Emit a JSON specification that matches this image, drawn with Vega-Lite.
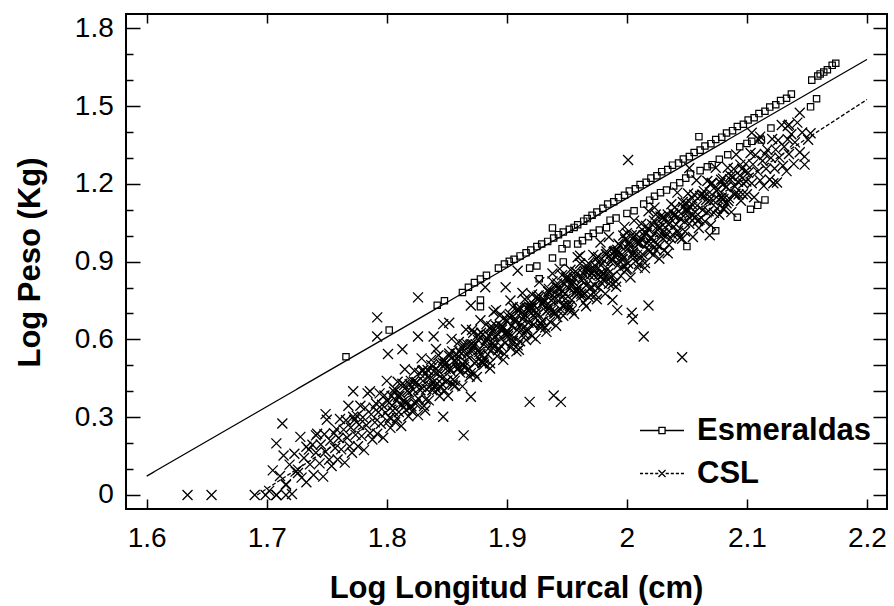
{
"$schema":"https://vega.github.io/schema/vega-lite/v6.json",
"width":761,"height":495,
"autosize":{"type":"none"},
"padding":{"left":126,"top":14,"right":7,"bottom":97},
"background":"white",
"config":{
 "view":{"stroke":"black","strokeWidth":2},
 "font":"Liberation Sans",
 "axis":{"domain":false,"grid":false,"tickColor":"black","tickWidth":1.5,"labelColor":"black","labelFont":"Liberation Sans","labelFontSize":28,"titleFont":"Liberation Sans","titleFontSize":31,"titleFontWeight":"bold","titleColor":"black","labelOverlap":false,"labelFlush":false}
},
"datasets":{
"lines":[{"s":"Esmeraldas","x":1.6,"y":0.073},{"s":"Esmeraldas","x":2.2,"y":1.68},{"s":"CSL","x":1.692,"y":0},{"s":"CSL","x":2.2,"y":1.525}],
"esm":[
{"x":1.766,"y":0.533},{"x":1.802,"y":0.636},{"x":1.842,"y":0.732},{"x":1.848,"y":0.749},{"x":1.863,"y":0.781},{"x":1.868,"y":0.801},{"x":1.873,"y":0.819},{"x":1.878,"y":0.833},{"x":1.883,"y":0.847},
{"x":1.893,"y":0.875},{"x":1.898,"y":0.891},{"x":1.902,"y":0.901},{"x":1.906,"y":0.909},{"x":1.911,"y":0.922},{"x":1.916,"y":0.934},{"x":1.920,"y":0.945},{"x":1.925,"y":0.958},{"x":1.929,"y":0.968},{"x":1.934,"y":0.978},{"x":1.939,"y":0.991},{"x":1.943,"y":1.004},{"x":1.947,"y":1.014},{"x":1.952,"y":1.025},{"x":1.956,"y":1.032},{"x":1.959,"y":1.042},{"x":1.964,"y":1.056},{"x":1.967,"y":1.066},{"x":1.971,"y":1.079},{"x":1.975,"y":1.091},
{"x":1.980,"y":1.106},{"x":1.984,"y":1.122},{"x":1.989,"y":1.131},{"x":1.993,"y":1.147},{"x":1.998,"y":1.156},{"x":2.002,"y":1.172},{"x":2.007,"y":1.181},{"x":2.011,"y":1.197},{"x":2.016,"y":1.206},{"x":2.020,"y":1.222},{"x":2.025,"y":1.231},{"x":2.029,"y":1.247},{"x":2.034,"y":1.255},{"x":2.038,"y":1.272},{"x":2.043,"y":1.280},{"x":2.047,"y":1.296},{"x":2.052,"y":1.305},{"x":2.056,"y":1.321},{"x":2.061,"y":1.330},{"x":2.065,"y":1.346},{"x":2.070,"y":1.355},{"x":2.074,"y":1.371},{"x":2.079,"y":1.380},{"x":2.083,"y":1.396},{"x":2.088,"y":1.405},{"x":2.092,"y":1.421},{"x":2.097,"y":1.430},{"x":2.101,"y":1.446},{"x":2.106,"y":1.455},{"x":2.110,"y":1.471},{"x":2.115,"y":1.480},{"x":2.119,"y":1.496},{"x":2.124,"y":1.505},{"x":2.128,"y":1.521},{"x":2.133,"y":1.530},{"x":2.137,"y":1.546},
{"x":2.154,"y":1.600},{"x":2.159,"y":1.616},{"x":2.161,"y":1.624},{"x":2.164,"y":1.631},{"x":2.167,"y":1.640},{"x":2.171,"y":1.657},{"x":2.174,"y":1.665},
{"x":1.938,"y":1.030},{"x":2.060,"y":1.382},
{"x":1.878,"y":0.752},{"x":1.878,"y":0.726},{"x":1.919,"y":0.875},{"x":1.925,"y":0.883},{"x":1.927,"y":0.834},{"x":1.938,"y":0.914},{"x":1.947,"y":0.899},{"x":1.946,"y":0.950},{"x":1.950,"y":0.968},{"x":1.959,"y":0.968},{"x":1.963,"y":0.981},{"x":1.968,"y":0.996},{"x":1.972,"y":1.009},{"x":1.977,"y":1.022},{"x":1.983,"y":1.031},{"x":1.986,"y":1.060},{"x":1.991,"y":1.068},{"x":2.000,"y":1.086},{"x":2.006,"y":1.096},{"x":2.014,"y":1.122},{"x":2.019,"y":1.137},{"x":2.023,"y":1.152},{"x":2.028,"y":1.166},{"x":2.033,"y":1.176},{"x":2.039,"y":1.192},{"x":2.044,"y":1.204},{"x":2.049,"y":1.222},{"x":2.053,"y":1.238},{"x":2.061,"y":1.251},{"x":2.067,"y":1.266},{"x":2.071,"y":1.274},{"x":2.077,"y":1.295},{"x":2.084,"y":1.312},{"x":2.094,"y":1.343},{"x":2.100,"y":1.356},{"x":2.104,"y":1.364},{"x":2.112,"y":1.369},{"x":2.120,"y":1.415},{"x":2.153,"y":1.497},{"x":2.158,"y":1.528},
{"x":2.050,"y":0.958},{"x":2.074,"y":1.019},{"x":2.092,"y":1.071},{"x":2.103,"y":1.102},{"x":2.109,"y":1.117},{"x":2.115,"y":1.138}
],
"csl":[
{"x":1.634,"y":0},{"x":1.654,"y":0},{"x":1.690,"y":0},{"x":1.699,"y":0},{"x":1.708,"y":0},{"x":1.716,"y":0},{"x":1.716,"y":0.042},{"x":1.724,"y":0.090},{"x":1.726,"y":0.085},{"x":1.708,"y":0.199},{"x":1.713,"y":0.276},{"x":1.733,"y":0.186},{"x":1.741,"y":0.230},{"x":1.749,"y":0.312},{"x":1.772,"y":0.302},{"x":1.772,"y":0.400},{"x":1.786,"y":0.400},
{"x":1.702,"y":0.016},{"x":1.705,"y":0.095},{"x":1.708,"y":0},
{"x":1.711,"y":0.073},{"x":1.714,"y":0.152},{"x":1.716,"y":0.038},{"x":1.719,"y":0.117},
{"x":1.721,"y":0.004},{"x":1.723,"y":0.159},{"x":1.726,"y":0.098},{"x":1.728,"y":0.224},{"x":1.729,"y":0.067},
{"x":1.731,"y":0.143},{"x":1.733,"y":0.049},{"x":1.735,"y":0.175},{"x":1.736,"y":0.118},{"x":1.738,"y":0.194},{"x":1.739,"y":0.077},
{"x":1.741,"y":0.163},{"x":1.742,"y":0.236},{"x":1.744,"y":0.122},{"x":1.745,"y":0.195},{"x":1.747,"y":0.071},{"x":1.748,"y":0.234},{"x":1.749,"y":0.167},
{"x":1.750,"y":0.290},{"x":1.752,"y":0.136},{"x":1.753,"y":0.209},{"x":1.754,"y":0.112},{"x":1.756,"y":0.238},{"x":1.757,"y":0.181},{"x":1.758,"y":0.254},{"x":1.759,"y":0.137},
{"x":1.760,"y":0.220},{"x":1.761,"y":0.293},{"x":1.762,"y":0.176},{"x":1.764,"y":0.252},{"x":1.765,"y":0.125},{"x":1.766,"y":0.288},{"x":1.767,"y":0.221},{"x":1.768,"y":0.344},{"x":1.769,"y":0.187},
{"x":1.770,"y":0.260},{"x":1.771,"y":0.163},{"x":1.773,"y":0.289},{"x":1.774,"y":0.232},{"x":1.775,"y":0.305},{"x":1.776,"y":0.188},{"x":1.777,"y":0.271},{"x":1.778,"y":0.344},{"x":1.779,"y":0.227},
{"x":1.780,"y":0.300},{"x":1.781,"y":0.173},{"x":1.782,"y":0.336},{"x":1.783,"y":0.269},{"x":1.784,"y":0.392},{"x":1.786,"y":0.238},{"x":1.787,"y":0.311},{"x":1.788,"y":0.214},{"x":1.789,"y":0.337},
{"x":1.790,"y":0.280},{"x":1.791,"y":0.353},{"x":1.792,"y":0.236},{"x":1.793,"y":0.319},{"x":1.794,"y":0.392},{"x":1.795,"y":0.275},{"x":1.796,"y":0.348},{"x":1.797,"y":0.221},{"x":1.798,"y":0.384},{"x":1.799,"y":0.317},
{"x":1.800,"y":0.440},{"x":1.801,"y":0.283},{"x":1.802,"y":0.356},{"x":1.803,"y":0.259},{"x":1.804,"y":0.382},{"x":1.805,"y":0.325},{"x":1.806,"y":0.398},{"x":1.807,"y":0.281},{"x":1.808,"y":0.364},{"x":1.809,"y":0.437},
{"x":1.810,"y":0.320},{"x":1.811,"y":0.393},{"x":1.812,"y":0.266},{"x":1.813,"y":0.429},{"x":1.814,"y":0.362},{"x":1.815,"y":0.485},{"x":1.816,"y":0.328},{"x":1.817,"y":0.401},{"x":1.818,"y":0.304},{"x":1.819,"y":0.427},{"x":1.816,"y":0.358},
{"x":1.820,"y":0.440},{"x":1.821,"y":0.323},{"x":1.822,"y":0.406},{"x":1.823,"y":0.479},{"x":1.824,"y":0.362},{"x":1.825,"y":0.435},{"x":1.826,"y":0.308},{"x":1.827,"y":0.471},{"x":1.828,"y":0.404},{"x":1.829,"y":0.527},{"x":1.824,"y":0.352},
{"x":1.830,"y":0.440},{"x":1.831,"y":0.343},{"x":1.832,"y":0.466},{"x":1.833,"y":0.409},{"x":1.834,"y":0.482},{"x":1.835,"y":0.365},{"x":1.836,"y":0.448},{"x":1.837,"y":0.521},{"x":1.838,"y":0.404},{"x":1.839,"y":0.477},{"x":1.832,"y":0.326},{"x":1.837,"y":0.501},
{"x":1.840,"y":0.440},{"x":1.841,"y":0.563},{"x":1.842,"y":0.406},{"x":1.843,"y":0.479},{"x":1.844,"y":0.382},{"x":1.845,"y":0.505},{"x":1.846,"y":0.448},{"x":1.847,"y":0.521},{"x":1.848,"y":0.404},{"x":1.849,"y":0.487},{"x":1.843,"y":0.539},{"x":1.846,"y":0.428},
{"x":1.850,"y":0.510},{"x":1.851,"y":0.383},{"x":1.852,"y":0.546},{"x":1.853,"y":0.479},{"x":1.854,"y":0.602},{"x":1.855,"y":0.445},{"x":1.856,"y":0.518},{"x":1.857,"y":0.421},{"x":1.858,"y":0.544},{"x":1.859,"y":0.487},{"x":1.852,"y":0.536},{"x":1.855,"y":0.425},{"x":1.858,"y":0.514},
{"x":1.860,"y":0.590},{"x":1.861,"y":0.473},{"x":1.862,"y":0.546},{"x":1.863,"y":0.419},{"x":1.864,"y":0.582},{"x":1.865,"y":0.515},{"x":1.866,"y":0.638},{"x":1.867,"y":0.481},{"x":1.868,"y":0.554},{"x":1.869,"y":0.457},{"x":1.861,"y":0.553},{"x":1.864,"y":0.502},{"x":1.867,"y":0.581},
{"x":1.870,"y":0.470},{"x":1.871,"y":0.553},{"x":1.872,"y":0.626},{"x":1.873,"y":0.509},{"x":1.874,"y":0.582},{"x":1.875,"y":0.455},{"x":1.876,"y":0.618},{"x":1.877,"y":0.551},{"x":1.878,"y":0.674},{"x":1.879,"y":0.517},{"x":1.871,"y":0.563},{"x":1.873,"y":0.469},{"x":1.876,"y":0.598},{"x":1.878,"y":0.544},
{"x":1.880,"y":0.620},{"x":1.881,"y":0.503},{"x":1.882,"y":0.586},{"x":1.883,"y":0.659},{"x":1.884,"y":0.542},{"x":1.885,"y":0.615},{"x":1.886,"y":0.488},{"x":1.887,"y":0.651},{"x":1.888,"y":0.584},{"x":1.889,"y":0.707},{"x":1.881,"y":0.523},{"x":1.884,"y":0.602},{"x":1.886,"y":0.508},{"x":1.888,"y":0.634},
{"x":1.890,"y":0.580},{"x":1.891,"y":0.653},{"x":1.892,"y":0.536},{"x":1.893,"y":0.619},{"x":1.894,"y":0.692},{"x":1.895,"y":0.575},{"x":1.896,"y":0.648},{"x":1.897,"y":0.521},{"x":1.898,"y":0.684},{"x":1.899,"y":0.617},{"x":1.891,"y":0.713},{"x":1.893,"y":0.559},{"x":1.896,"y":0.638},{"x":1.898,"y":0.544},
{"x":1.900,"y":0.670},{"x":1.901,"y":0.613},{"x":1.902,"y":0.686},{"x":1.903,"y":0.569},{"x":1.904,"y":0.652},{"x":1.905,"y":0.725},{"x":1.906,"y":0.608},{"x":1.907,"y":0.681},{"x":1.908,"y":0.554},{"x":1.909,"y":0.717},{"x":1.901,"y":0.623},{"x":1.903,"y":0.750},{"x":1.905,"y":0.595},{"x":1.907,"y":0.671},{"x":1.909,"y":0.577},
{"x":1.910,"y":0.560},{"x":1.911,"y":0.723},{"x":1.912,"y":0.656},{"x":1.913,"y":0.779},{"x":1.914,"y":0.622},{"x":1.915,"y":0.695},{"x":1.916,"y":0.598},{"x":1.917,"y":0.721},{"x":1.918,"y":0.664},{"x":1.919,"y":0.737},{"x":1.911,"y":0.593},{"x":1.913,"y":0.679},{"x":1.915,"y":0.755},{"x":1.917,"y":0.641},{"x":1.918,"y":0.714},
{"x":1.920,"y":0.700},{"x":1.921,"y":0.773},{"x":1.922,"y":0.656},{"x":1.923,"y":0.729},{"x":1.924,"y":0.602},{"x":1.925,"y":0.765},{"x":1.926,"y":0.698},{"x":1.927,"y":0.821},{"x":1.928,"y":0.664},{"x":1.929,"y":0.737},{"x":1.921,"y":0.613},{"x":1.922,"y":0.736},{"x":1.924,"y":0.682},{"x":1.926,"y":0.758},{"x":1.928,"y":0.644},
{"x":1.930,"y":0.670},{"x":1.931,"y":0.743},{"x":1.932,"y":0.646},{"x":1.933,"y":0.769},{"x":1.934,"y":0.712},{"x":1.935,"y":0.785},{"x":1.936,"y":0.668},{"x":1.937,"y":0.751},{"x":1.938,"y":0.824},{"x":1.939,"y":0.707},{"x":1.931,"y":0.753},{"x":1.933,"y":0.629},{"x":1.935,"y":0.795},{"x":1.936,"y":0.728},{"x":1.938,"y":0.854},
{"x":1.940,"y":0.780},{"x":1.941,"y":0.653},{"x":1.942,"y":0.816},{"x":1.943,"y":0.749},{"x":1.944,"y":0.872},{"x":1.945,"y":0.715},{"x":1.946,"y":0.788},{"x":1.947,"y":0.691},{"x":1.948,"y":0.814},{"x":1.949,"y":0.757},{"x":1.941,"y":0.803},{"x":1.942,"y":0.686},{"x":1.944,"y":0.772},{"x":1.946,"y":0.848},{"x":1.948,"y":0.734},
{"x":1.950,"y":0.830},{"x":1.951,"y":0.713},{"x":1.952,"y":0.796},{"x":1.953,"y":0.869},{"x":1.954,"y":0.752},{"x":1.955,"y":0.825},{"x":1.956,"y":0.698},{"x":1.957,"y":0.861},{"x":1.958,"y":0.794},{"x":1.959,"y":0.917},{"x":1.951,"y":0.733},{"x":1.953,"y":0.809},{"x":1.954,"y":0.712},{"x":1.956,"y":0.838},{"x":1.958,"y":0.784},
{"x":1.960,"y":0.800},{"x":1.961,"y":0.923},{"x":1.962,"y":0.766},{"x":1.963,"y":0.839},{"x":1.964,"y":0.742},{"x":1.965,"y":0.865},{"x":1.966,"y":0.808},{"x":1.967,"y":0.881},{"x":1.968,"y":0.764},{"x":1.969,"y":0.847},{"x":1.961,"y":0.893},{"x":1.962,"y":0.776},{"x":1.964,"y":0.852},{"x":1.966,"y":0.728},{"x":1.968,"y":0.894},
{"x":1.970,"y":0.770},{"x":1.971,"y":0.853},{"x":1.972,"y":0.926},{"x":1.973,"y":0.809},{"x":1.974,"y":0.882},{"x":1.975,"y":0.755},{"x":1.976,"y":0.918},{"x":1.977,"y":0.851},{"x":1.978,"y":0.974},{"x":1.979,"y":0.817},{"x":1.972,"y":0.866},{"x":1.974,"y":0.772},{"x":1.976,"y":0.898},{"x":1.978,"y":0.844},
{"x":1.980,"y":0.830},{"x":1.981,"y":0.903},{"x":1.982,"y":0.776},{"x":1.983,"y":0.939},{"x":1.984,"y":0.872},{"x":1.985,"y":0.995},{"x":1.986,"y":0.838},{"x":1.987,"y":0.911},{"x":1.988,"y":0.814},{"x":1.989,"y":0.937},{"x":1.981,"y":0.853},{"x":1.983,"y":0.929},{"x":1.985,"y":0.815},{"x":1.988,"y":0.904},
{"x":1.990,"y":0.920},{"x":1.991,"y":0.823},{"x":1.992,"y":0.946},{"x":1.993,"y":0.889},{"x":1.994,"y":0.962},{"x":1.995,"y":0.845},{"x":1.996,"y":0.928},{"x":1.997,"y":1.001},{"x":1.998,"y":0.884},{"x":1.999,"y":0.957},{"x":1.991,"y":0.803},{"x":1.993,"y":0.969},{"x":1.996,"y":0.908},{"x":1.998,"y":1.034},
{"x":2.000,"y":1.010},{"x":2.001,"y":0.893},{"x":2.002,"y":0.966},{"x":2.003,"y":0.839},{"x":2.004,"y":1.002},{"x":2.005,"y":0.935},{"x":2.006,"y":1.058},{"x":2.007,"y":0.901},{"x":2.008,"y":0.974},{"x":2.009,"y":0.877},{"x":2.002,"y":0.976},{"x":2.005,"y":0.925},{"x":2.008,"y":1.004},
{"x":2.010,"y":0.890},{"x":2.011,"y":0.973},{"x":2.012,"y":1.046},{"x":2.013,"y":0.929},{"x":2.014,"y":1.002},{"x":2.015,"y":0.875},{"x":2.016,"y":1.038},{"x":2.017,"y":0.971},{"x":2.018,"y":1.094},{"x":2.019,"y":0.937},{"x":2.012,"y":0.986},{"x":2.015,"y":0.895},{"x":2.018,"y":1.024},
{"x":2.020,"y":0.970},{"x":2.021,"y":1.043},{"x":2.022,"y":0.926},{"x":2.023,"y":1.009},{"x":2.024,"y":1.082},{"x":2.025,"y":0.965},{"x":2.026,"y":1.038},{"x":2.027,"y":0.911},{"x":2.028,"y":1.074},{"x":2.029,"y":1.007},{"x":2.023,"y":1.109},{"x":2.027,"y":0.961},
{"x":2.030,"y":1.040},{"x":2.031,"y":0.943},{"x":2.032,"y":1.066},{"x":2.033,"y":1.009},{"x":2.034,"y":1.082},{"x":2.035,"y":0.965},{"x":2.036,"y":1.048},{"x":2.037,"y":1.121},{"x":2.038,"y":1.004},{"x":2.039,"y":1.077},{"x":2.034,"y":0.932},
{"x":2.040,"y":1.110},{"x":2.041,"y":1.043},{"x":2.042,"y":1.166},{"x":2.043,"y":1.009},{"x":2.045,"y":1.085},{"x":2.046,"y":0.988},{"x":2.047,"y":1.111},{"x":2.048,"y":1.054},{"x":2.049,"y":1.127},{"x":2.044,"y":0.992},
{"x":2.050,"y":1.090},{"x":2.051,"y":1.163},{"x":2.052,"y":1.046},{"x":2.054,"y":1.122},{"x":2.055,"y":0.995},{"x":2.056,"y":1.158},{"x":2.057,"y":1.091},{"x":2.058,"y":1.214},{"x":2.059,"y":1.057},{"x":2.053,"y":1.109},
{"x":2.060,"y":1.030},{"x":2.061,"y":1.153},{"x":2.063,"y":1.099},{"x":2.064,"y":1.172},{"x":2.065,"y":1.055},{"x":2.066,"y":1.138},{"x":2.067,"y":1.211},{"x":2.068,"y":1.094},{"x":2.069,"y":1.167},
{"x":2.070,"y":1.040},{"x":2.071,"y":1.203},{"x":2.072,"y":1.136},{"x":2.074,"y":1.262},{"x":2.075,"y":1.105},{"x":2.076,"y":1.178},{"x":2.077,"y":1.081},{"x":2.078,"y":1.204},{"x":2.079,"y":1.147},
{"x":2.080,"y":1.220},{"x":2.081,"y":1.103},{"x":2.083,"y":1.189},{"x":2.084,"y":1.262},{"x":2.085,"y":1.145},{"x":2.086,"y":1.218},{"x":2.087,"y":1.091},{"x":2.089,"y":1.257},
{"x":2.090,"y":1.190},{"x":2.091,"y":1.313},{"x":2.093,"y":1.159},{"x":2.094,"y":1.232},{"x":2.095,"y":1.135},{"x":2.096,"y":1.258},{"x":2.097,"y":1.201},{"x":2.099,"y":1.277},
{"x":2.100,"y":1.160},{"x":2.101,"y":1.243},{"x":2.103,"y":1.319},{"x":2.104,"y":1.202},{"x":2.105,"y":1.275},{"x":2.106,"y":1.148},{"x":2.107,"y":1.311},{"x":2.109,"y":1.247},
{"x":2.110,"y":1.370},{"x":2.111,"y":1.213},{"x":2.113,"y":1.289},{"x":2.114,"y":1.192},{"x":2.115,"y":1.315},{"x":2.116,"y":1.258},{"x":2.117,"y":1.331},{"x":2.119,"y":1.217},
{"x":2.120,"y":1.300},{"x":2.121,"y":1.373},{"x":2.123,"y":1.259},{"x":2.124,"y":1.332},{"x":2.125,"y":1.205},{"x":2.126,"y":1.368},{"x":2.127,"y":1.301},{"x":2.129,"y":1.427},
{"x":2.130,"y":1.270},{"x":2.131,"y":1.343},{"x":2.133,"y":1.249},{"x":2.134,"y":1.372},{"x":2.135,"y":1.315},{"x":2.137,"y":1.391},{"x":2.139,"y":1.277},
{"x":2.140,"y":1.360},{"x":2.142,"y":1.436},{"x":2.144,"y":1.322},{"x":2.146,"y":1.398},{"x":2.148,"y":1.274},
{"x":2.151,"y":1.370},{"x":2.153,"y":1.395},
{"x":1.826,"y":0.762},{"x":1.792,"y":0.685},{"x":1.792,"y":0.611},{"x":1.801,"y":0.544},{"x":1.813,"y":0.562},{"x":1.826,"y":0.611},{"x":1.839,"y":0.611},{"x":1.847,"y":0.659},{"x":1.852,"y":0.664},{"x":1.870,"y":0.731},{"x":1.871,"y":0.636},{"x":1.882,"y":0.801},{"x":1.899,"y":0.801},{"x":1.909,"y":0.865},{"x":2.001,"y":1.292},{"x":2.144,"y":1.474},{"x":2.135,"y":1.428},{"x":2.134,"y":1.423},{"x":2.052,"y":1.261},{"x":2.104,"y":1.397},{"x":2.111,"y":1.382},
{"x":1.864,"y":0.230},{"x":1.870,"y":0.379},{"x":1.847,"y":0.302},{"x":1.919,"y":0.359},{"x":1.939,"y":0.384},{"x":1.945,"y":0.359},{"x":1.988,"y":0.752},{"x":1.992,"y":0.713},{"x":2.004,"y":0.703},{"x":2.005,"y":0.678},{"x":2.018,"y":0.731},{"x":2.014,"y":0.611},{"x":2.046,"y":0.531},{"x":2.069,"y":1.002},{"x":2.080,"y":1.104},{"x":2.083,"y":1.125},{"x":2.122,"y":1.202},{"x":2.148,"y":1.305},
{"x":1.8005,"y":0.362},{"x":1.8025,"y":0.298},{"x":1.8045,"y":0.344},{"x":1.8065,"y":0.410},{"x":1.8085,"y":0.296},{"x":1.8095,"y":0.379},
{"x":1.8105,"y":0.382},{"x":1.8125,"y":0.348},{"x":1.8145,"y":0.424},{"x":1.8165,"y":0.350},{"x":1.8185,"y":0.396},{"x":1.8195,"y":0.339},
{"x":1.8205,"y":0.342},{"x":1.8225,"y":0.438},{"x":1.8245,"y":0.434},{"x":1.8265,"y":0.370},{"x":1.8285,"y":0.416},{"x":1.8295,"y":0.479},
{"x":1.8305,"y":0.482},{"x":1.8325,"y":0.368},{"x":1.8345,"y":0.454},{"x":1.8365,"y":0.420},{"x":1.8385,"y":0.496},{"x":1.8395,"y":0.419},
{"x":1.8405,"y":0.422},{"x":1.8425,"y":0.468},{"x":1.8445,"y":0.414},{"x":1.8465,"y":0.510},{"x":1.8485,"y":0.506},{"x":1.8495,"y":0.439},
{"x":1.8505,"y":0.442},{"x":1.8525,"y":0.488},{"x":1.8545,"y":0.554},{"x":1.8565,"y":0.440},{"x":1.8585,"y":0.526},{"x":1.8595,"y":0.489},
{"x":1.8605,"y":0.492},{"x":1.8625,"y":0.568},{"x":1.8645,"y":0.494},{"x":1.8665,"y":0.540},{"x":1.8685,"y":0.486},{"x":1.8695,"y":0.579},
{"x":1.8705,"y":0.582},{"x":1.8725,"y":0.578},{"x":1.8745,"y":0.514},{"x":1.8765,"y":0.560},{"x":1.8785,"y":0.626},{"x":1.8795,"y":0.509},
{"x":1.8805,"y":0.512},{"x":1.8825,"y":0.598},{"x":1.8845,"y":0.564},{"x":1.8865,"y":0.640},{"x":1.8885,"y":0.566},{"x":1.8895,"y":0.609},
{"x":1.8905,"y":0.612},{"x":1.8925,"y":0.558},{"x":1.8945,"y":0.654},{"x":1.8965,"y":0.650},{"x":1.8985,"y":0.586},{"x":1.8995,"y":0.629},
{"x":1.9005,"y":0.632},{"x":1.9025,"y":0.698},{"x":1.9045,"y":0.584},{"x":1.9065,"y":0.670},{"x":1.9085,"y":0.636},{"x":1.9095,"y":0.709},
{"x":1.9105,"y":0.712},{"x":1.9125,"y":0.638},{"x":1.9145,"y":0.684},{"x":1.9165,"y":0.630},{"x":1.9185,"y":0.726},{"x":1.9195,"y":0.719},
{"x":1.9205,"y":0.722},{"x":1.9225,"y":0.658},{"x":1.9245,"y":0.704},{"x":1.9265,"y":0.770},{"x":1.9285,"y":0.656},{"x":1.9295,"y":0.739},
{"x":1.9305,"y":0.742},{"x":1.9325,"y":0.708},{"x":1.9345,"y":0.784},{"x":1.9365,"y":0.710},{"x":1.9385,"y":0.756},{"x":1.9395,"y":0.699},
{"x":1.9405,"y":0.702},{"x":1.9425,"y":0.798},{"x":1.9445,"y":0.794},{"x":1.9465,"y":0.730},{"x":1.9485,"y":0.776},{"x":1.9495,"y":0.839},
{"x":1.9505,"y":0.842},{"x":1.9525,"y":0.728},{"x":1.9545,"y":0.814},{"x":1.9565,"y":0.780},{"x":1.9585,"y":0.856},{"x":1.9595,"y":0.779},
{"x":1.9605,"y":0.782},{"x":1.9625,"y":0.828},{"x":1.9645,"y":0.774},{"x":1.9665,"y":0.870},{"x":1.9685,"y":0.866},{"x":1.9695,"y":0.799},
{"x":1.9705,"y":0.802},{"x":1.9725,"y":0.848},{"x":1.9745,"y":0.914},{"x":1.9765,"y":0.800},{"x":1.9785,"y":0.886},{"x":1.9795,"y":0.849},
{"x":1.9805,"y":0.852},{"x":1.9825,"y":0.928},{"x":1.9845,"y":0.854},{"x":1.9865,"y":0.900},{"x":1.9885,"y":0.846},{"x":1.9895,"y":0.939},
{"x":1.9905,"y":0.942},{"x":1.9925,"y":0.938},{"x":1.9945,"y":0.874},{"x":1.9965,"y":0.920},{"x":1.9985,"y":0.986},{"x":1.9995,"y":0.869},
{"x":2.0005,"y":0.872},{"x":2.0025,"y":0.958},{"x":2.0045,"y":0.924},{"x":2.0065,"y":1.000},{"x":2.0085,"y":0.926},{"x":2.0095,"y":0.969},
{"x":2.0105,"y":0.972},{"x":2.0125,"y":0.918},{"x":2.0145,"y":1.014},{"x":2.0165,"y":1.010},{"x":2.0185,"y":0.946},{"x":2.0195,"y":0.989},
{"x":2.0205,"y":0.992},{"x":2.0225,"y":1.058},{"x":2.0245,"y":0.944},{"x":2.0265,"y":1.030},{"x":2.0285,"y":0.996},{"x":2.0295,"y":1.069},
{"x":2.0305,"y":1.072},{"x":2.0325,"y":0.998},{"x":2.0345,"y":1.044},{"x":2.0365,"y":0.990},{"x":2.0385,"y":1.086},{"x":2.0395,"y":1.079},
{"x":2.0405,"y":1.082},{"x":2.0425,"y":1.018},{"x":2.0445,"y":1.064},{"x":2.0465,"y":1.130},{"x":2.0485,"y":1.016},{"x":2.0495,"y":1.099},
{"x":2.0505,"y":1.102},{"x":2.0525,"y":1.068},{"x":2.0545,"y":1.144},{"x":2.0565,"y":1.070},{"x":2.0585,"y":1.116},{"x":2.0595,"y":1.059},
{"x":2.0605,"y":1.062},{"x":2.0625,"y":1.158},{"x":2.0645,"y":1.154},{"x":2.0665,"y":1.090},{"x":2.0685,"y":1.136},{"x":2.0695,"y":1.199},
{"x":2.0705,"y":1.202},{"x":2.0725,"y":1.088},{"x":2.0745,"y":1.174},{"x":2.0765,"y":1.140},{"x":2.0785,"y":1.216},{"x":2.0795,"y":1.139},
{"x":2.0805,"y":1.142},{"x":2.0825,"y":1.188},{"x":2.0845,"y":1.134},{"x":2.0865,"y":1.230},{"x":2.0885,"y":1.226},{"x":2.0895,"y":1.159},
{"x":2.0905,"y":1.162},{"x":2.0925,"y":1.208},{"x":2.0945,"y":1.274},{"x":2.0965,"y":1.160},{"x":2.0985,"y":1.246},{"x":2.0995,"y":1.209}
]
},
"layer":[
{"data":{"name":"lines"},
 "mark":{"type":"line","color":"black","strokeWidth":1.3},
 "encoding":{
  "x":{"field":"x","type":"quantitative","scale":{"domain":[1.58275,2.21667],"nice":false,"zero":false},"axis":null},
  "y":{"field":"y","type":"quantitative","scale":{"domain":[-0.054,1.855],"nice":false,"zero":false},"axis":null},
  "strokeDash":{"field":"s","type":"nominal","scale":{"domain":["CSL","Esmeraldas"],"range":[[4,2],[1,0]]},"legend":null}
 }},
{"data":{"name":"csl"},
 "mark":{"type":"point","shape":"M-1,-1L1,1M-1,1L1,-1","size":100,"filled":false,"color":"black","strokeWidth":1.3,"opacity":1},
 "encoding":{
  "x":{"field":"x","type":"quantitative","axis":{"orient":"bottom","values":[1.6,1.7,1.8,1.9,2,2.1,2.2],"tickSize":-10,"labelPadding":25.6,"labelExpr":"datum.value == 2 ? '2' : format(datum.value, '.1f')","title":"Log Longitud Furcal (cm)","titleX":390,"titleY":88,"titleBaseline":"alphabetic"}},
  "y":{"field":"y","type":"quantitative","axis":{"orient":"left","values":[0,0.1,0.2,0.3,0.4,0.5,0.6,0.7,0.8,0.9,1,1.1,1.2,1.3,1.4,1.5,1.6,1.7,1.8],"tickSize":{"condition":{"test":"round(datum.value*10)%3===0","value":-14},"value":-7},"labelPadding":26.7,"labelExpr":"round(datum.value*10)%3===0 ? (datum.value === 0 ? '0' : format(datum.value, '.1f')) : ''","title":"Log Peso (Kg)","titleX":-87,"titleY":248,"titleBaseline":"alphabetic"}}
 }},
{"data":{"name":"esm"},
 "mark":{"type":"point","filled":false,"color":"black","strokeWidth":1.2,"opacity":1,"size":40},
 "encoding":{
  "x":{"field":"x","type":"quantitative","axis":{"orient":"top","values":[1.6,1.7,1.8,1.9,2,2.1,2.2],"tickSize":-9,"labels":false,"title":null}},
  "y":{"field":"y","type":"quantitative","axis":{"orient":"right","values":[0,0.1,0.2,0.3,0.4,0.5,0.6,0.7,0.8,0.9,1,1.1,1.2,1.3,1.4,1.5,1.6,1.7,1.8],"tickSize":-14,"labels":false,"title":null}},
  "shape":{"condition":{"test":"true","value":"square"},"field":"s","type":"nominal",
   "scale":{"domain":["Esmeraldas","CSL"],"range":["M-1,0L-0.14,0M0.14,0L1,0M-0.14,-0.14L0.14,-0.14L0.14,0.14L-0.14,0.14Z","M-1,0L-0.86,0M-0.77,0L-0.63,0M-0.54,0L-0.4,0M-0.31,0L-0.17,0M0.17,0L0.31,0M0.4,0L0.54,0M0.63,0L0.77,0M0.86,0L1,0M-0.16,-0.16L0.16,0.16M-0.16,0.16L0.16,-0.16"]},
   "legend":{"title":null,"orient":"none","legendX":513,"legendY":397,"symbolSize":1936,"symbolOpacity":1,"symbolStrokeColor":"black","symbolFillColor":"transparent","symbolStrokeWidth":1.3,"labelFont":"Liberation Sans","labelFontSize":31,"labelFontWeight":"bold","labelColor":"black","labelOffset":12,"labelLimit":400,"clipHeight":39,"rowPadding":4,"padding":0}}
 }}
],
"resolve":{"axis":{"x":"independent","y":"independent"}}
}
